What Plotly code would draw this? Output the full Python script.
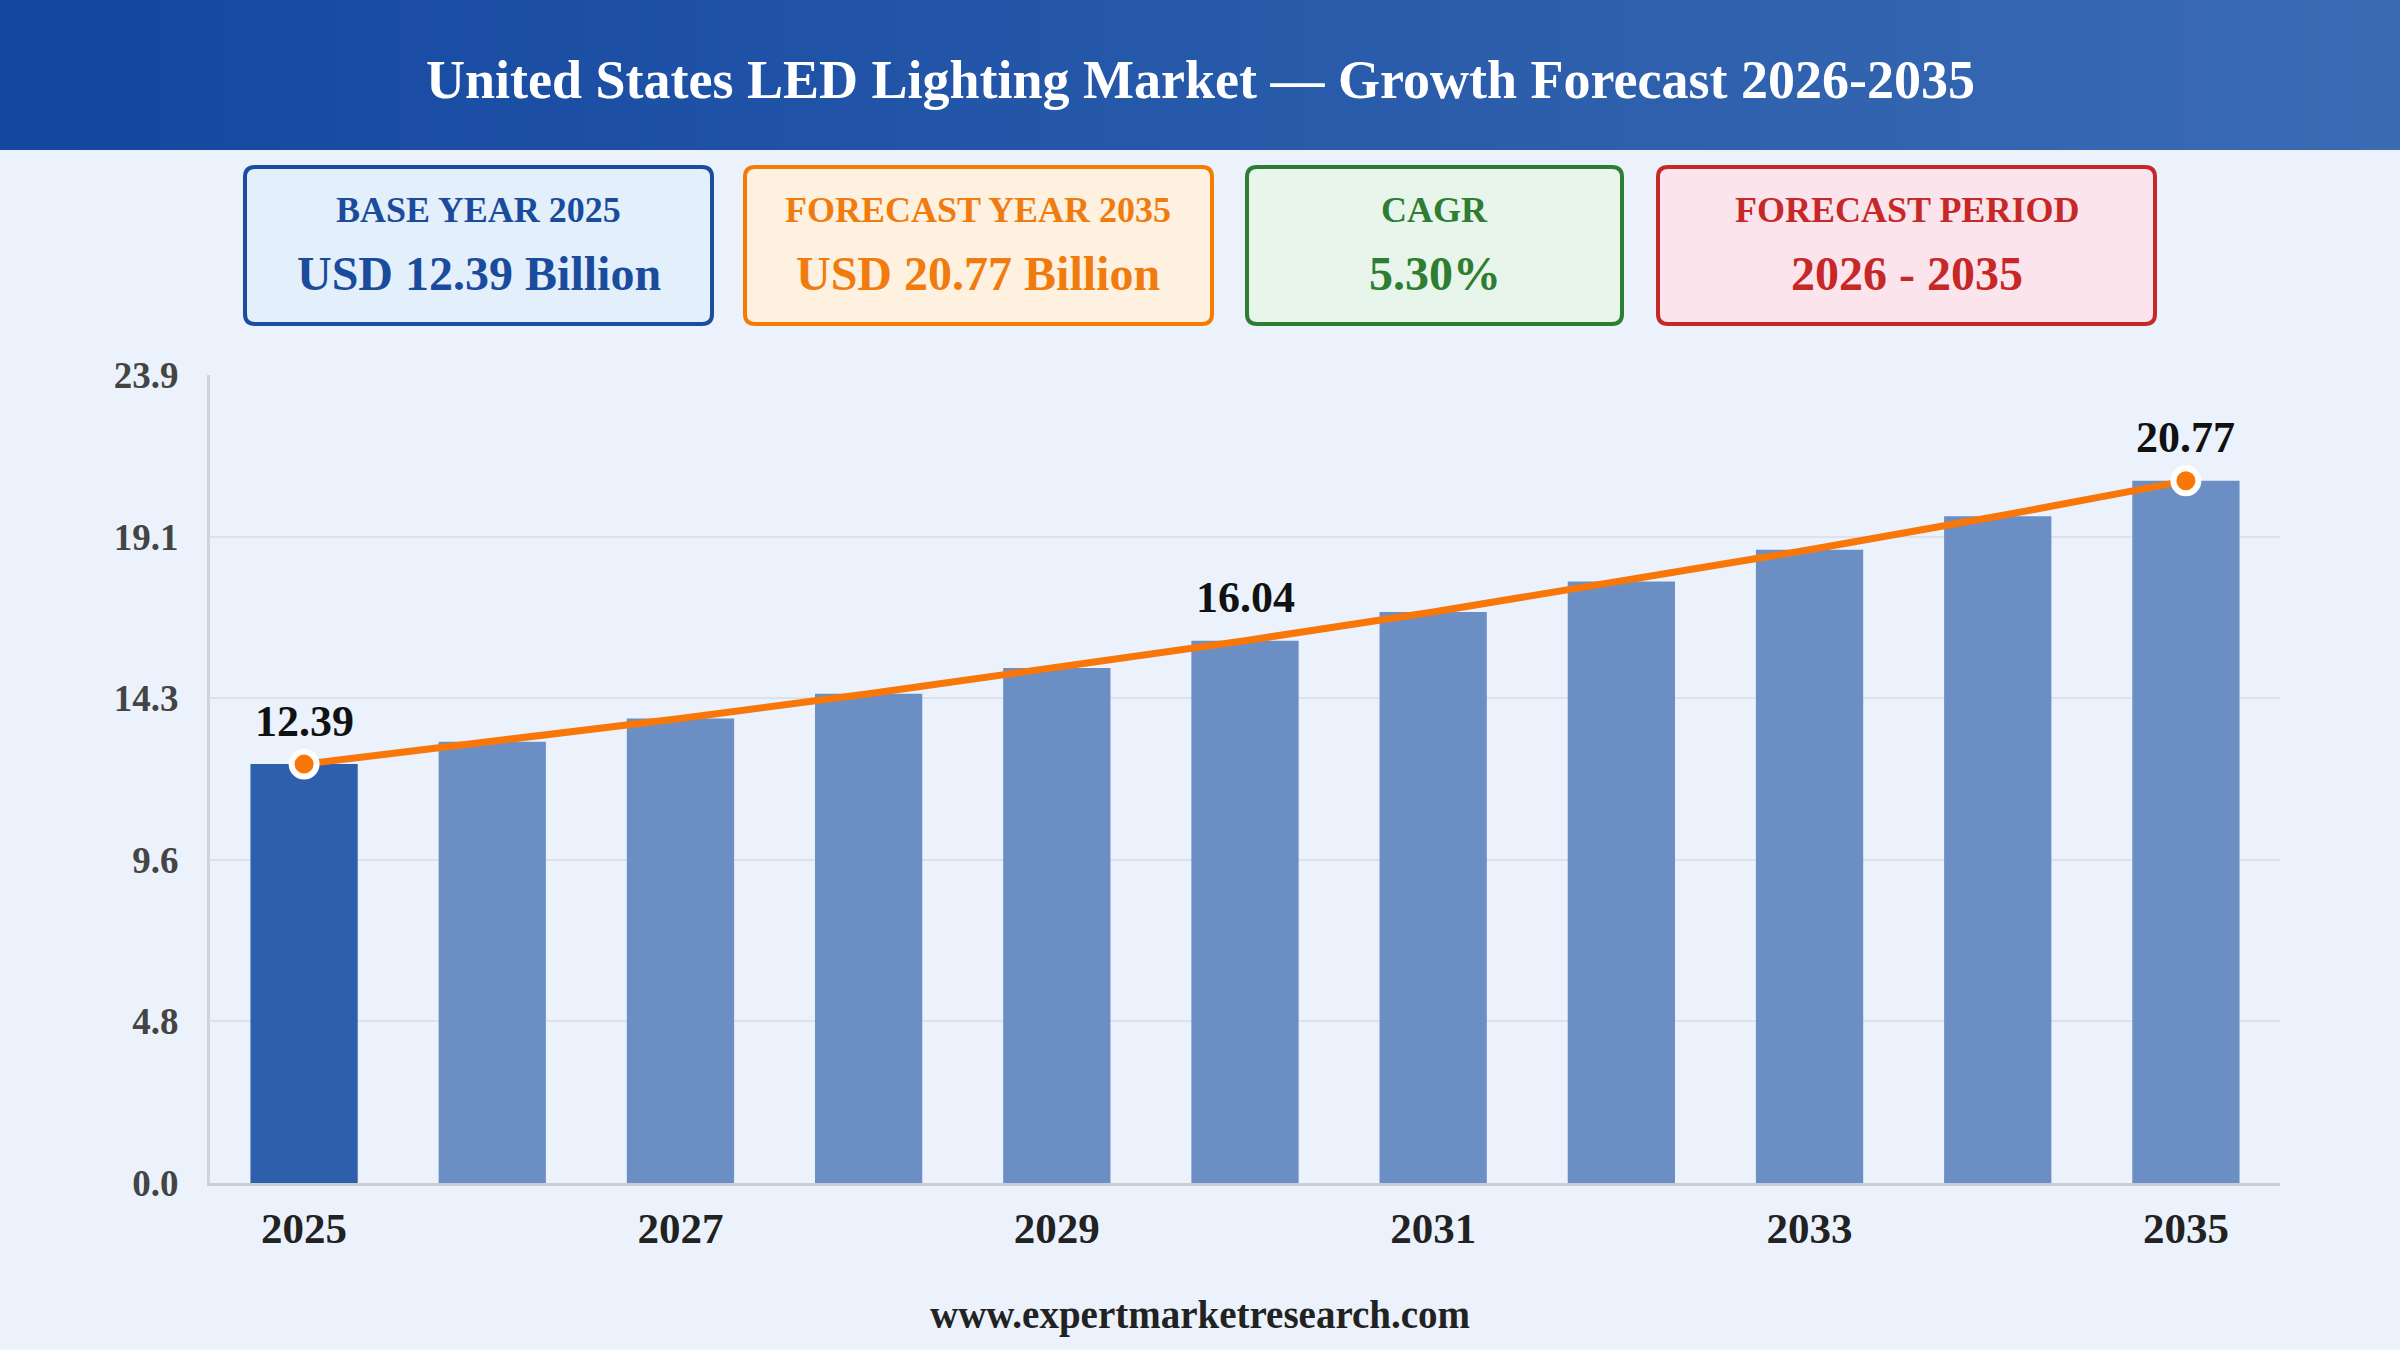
import plotly.graph_objects as go

# ---- data ----
years = [2025, 2026, 2027, 2028, 2029, 2030, 2031, 2032, 2033, 2034, 2035]
market_size = [12.39, 13.05, 13.74, 14.47, 15.23, 16.04, 16.89, 17.79, 18.73, 19.72, 20.77]
labelled_years = [2025, 2030, 2035]
marker_years = [2025, 2035]
y_max = 23.9
y_ticks = [0.0, 4.78, 9.56, 14.34, 19.12, 23.9]
y_tick_text = ["0.0", "4.8", "9.6", "14.3", "19.1", "23.9"]
x_tick_years = [2025, 2027, 2029, 2031, 2033, 2035]

card_titles = ["BASE YEAR 2025", "FORECAST YEAR 2035", "CAGR", "FORECAST PERIOD"]
card_values = ["USD 12.39 Billion", "USD 20.77 Billion", "5.30%", "2026 - 2035"]

# ---- page geometry (pixels) ----
W, H = 2400, 1350
ML, MR, MT, MB = 210, 120, 375, 167
PW, PH = W - ML - MR, H - MT - MB

SERIF = "Liberation Serif, Times New Roman, serif"


def px_x(px):
    return (px - ML) / PW


def px_y(py):
    return (H - MB - py) / PH


def rounded_rect(x0, y0, x1, y1, r):
    # path in paper coords built from pixel corners
    X = lambda v: px_x(v)
    Y = lambda v: px_y(v)
    return (f"M {X(x0 + r)},{Y(y0)} L {X(x1 - r)},{Y(y0)} "
            f"Q {X(x1)},{Y(y0)} {X(x1)},{Y(y0 + r)} "
            f"L {X(x1)},{Y(y1 - r)} Q {X(x1)},{Y(y1)} {X(x1 - r)},{Y(y1)} "
            f"L {X(x0 + r)},{Y(y1)} Q {X(x0)},{Y(y1)} {X(x0)},{Y(y1 - r)} "
            f"L {X(x0)},{Y(y0 + r)} Q {X(x0)},{Y(y0)} {X(x0 + r)},{Y(y0)} Z")


bar_colors = ["#2e5fac" if y == years[0] else "#6b8fc4" for y in years]
x_cat = [str(y) for y in years]

fig = go.Figure()

fig.add_trace(go.Bar(
    x=x_cat, y=market_size,
    marker=dict(color=bar_colors, line=dict(width=0)),
    hoverinfo="skip",
))

fig.add_trace(go.Scatter(
    x=x_cat, y=market_size, mode="lines",
    line=dict(color="#f97608", width=7),
    hoverinfo="skip",
))

mk_x = [str(y) for y in marker_years]
mk_y = [market_size[years.index(y)] for y in marker_years]
fig.add_trace(go.Scatter(
    x=mk_x, y=mk_y, mode="markers",
    marker=dict(color="#f97608", size=25, line=dict(color="white", width=6)),
    hoverinfo="skip",
))

annotations = []
for y in labelled_years:
    idx = years.index(y)
    v = market_size[idx]
    # category axis: annotation x is the category index
    annotations.append(dict(
        x=idx, y=v, xref="x", yref="y", text=f"<b>{v:.2f}</b>",
        showarrow=False, yshift=43,
        font=dict(family=SERIF, size=44, color="#111111"),
    ))

shapes = []
# header banner with horizontal gradient
n_strips = 120
c_left = (19, 71, 160)
c_right = (58, 107, 179)
for i in range(n_strips):
    t = i / (n_strips - 1)
    col = tuple(round(a + (b - a) * t) for a, b in zip(c_left, c_right))
    shapes.append(dict(
        type="rect", xref="paper", yref="paper", layer="below",
        x0=px_x(W * i / n_strips), x1=px_x(W * (i + 1) / n_strips + 1),
        y0=px_y(150), y1=px_y(0),
        fillcolor=f"rgb{col}", line=dict(width=0),
    ))

annotations.append(dict(
    x=px_x(W / 2), y=px_y(80), xref="paper", yref="paper",
    text="<b>United States LED Lighting Market — Growth Forecast 2026-2035</b>",
    showarrow=False, xanchor="center", yanchor="middle",
    font=dict(family=SERIF, size=54, color="white"),
))

# KPI cards
card_boxes = [(245, 712), (745, 1212), (1247, 1622), (1658, 2155)]
card_border = ["#1a4d9e", "#f57c00", "#2e7d32", "#c62828"]
card_fill = ["#e3f0fc", "#fef1df", "#e7f5ea", "#fce4ec"]
card_text = ["#1a4b9c", "#f07c10", "#2e7d32", "#c62828"]
for (x0, x1), title, value, bc, fc, tc in zip(card_boxes, card_titles, card_values,
                                               card_border, card_fill, card_text):
    shapes.append(dict(
        type="path", xref="paper", yref="paper", layer="below",
        path=rounded_rect(x0, 167, x1, 324, 10),
        fillcolor=fc, line=dict(color=bc, width=4),
    ))
    xc = px_x((x0 + x1) / 2)
    annotations.append(dict(
        x=xc, y=px_y(210), xref="paper", yref="paper", text=f"<b>{title}</b>",
        showarrow=False, xanchor="center", yanchor="middle",
        font=dict(family=SERIF, size=36, color=tc),
    ))
    annotations.append(dict(
        x=xc, y=px_y(273), xref="paper", yref="paper", text=f"<b>{value}</b>",
        showarrow=False, xanchor="center", yanchor="middle",
        font=dict(family=SERIF, size=48, color=tc),
    ))

annotations.append(dict(
    x=px_x(W / 2), y=px_y(1315), xref="paper", yref="paper",
    text="<b>www.expertmarketresearch.com</b>",
    showarrow=False, xanchor="center", yanchor="middle",
    font=dict(family=SERIF, size=39, color="#222222"),
))

fig.update_layout(
    width=W, height=H,
    margin=dict(l=ML, r=MR, t=MT, b=MB, pad=0),
    paper_bgcolor="#ebf2fb",
    plot_bgcolor="#ebf2fb",
    showlegend=False,
    bargap=0.43,
    shapes=shapes,
    annotations=annotations,
    xaxis=dict(
        type="category",
        tickmode="array",
        tickvals=[str(y) for y in x_tick_years],
        ticktext=[f"<b>{y}</b>" for y in x_tick_years],
        tickfont=dict(family=SERIF, size=43, color="#222222"),
        ticks="", ticklabelstandoff=5,
        showgrid=False, zeroline=False,
        showline=True, linecolor="#c9ced6", linewidth=3,
        range=[-0.5, len(years) - 0.5],
    ),
    yaxis=dict(
        range=[0, y_max],
        tickmode="array",
        tickvals=y_ticks,
        ticktext=[f"<b>{t}</b>" for t in y_tick_text],
        tickfont=dict(family=SERIF, size=37, color="#444444"),
        ticks="", ticklabelstandoff=21,
        showgrid=True, gridcolor="#dde2ea", gridwidth=2,
        zeroline=False,
        showline=True, linecolor="#d0d4da", linewidth=3,
    ),
)

fig.write_html("out.html", config={"displayModeBar": False},
               post_script="document.body.style.margin='0';")
